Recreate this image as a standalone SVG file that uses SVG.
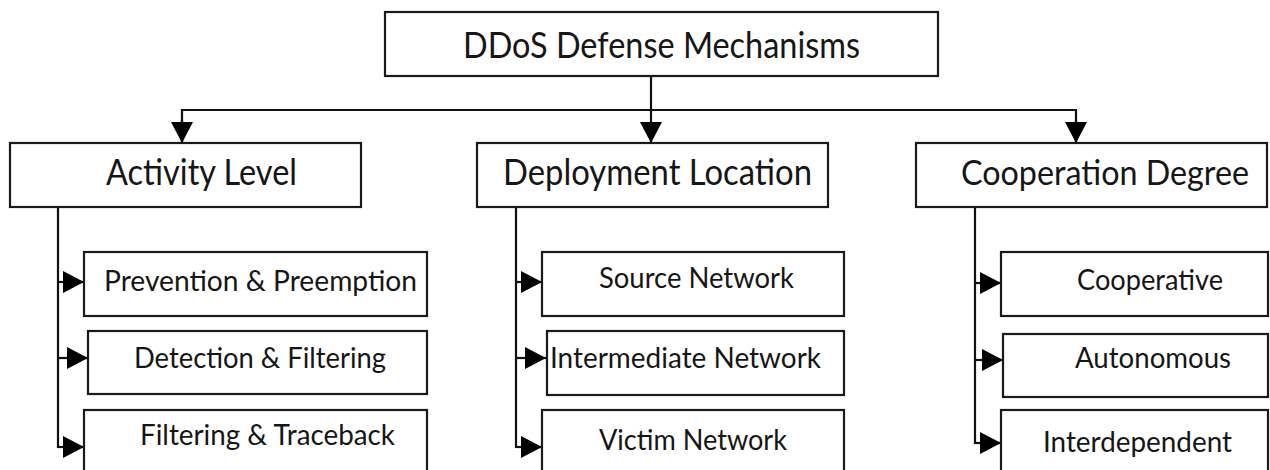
<svg xmlns="http://www.w3.org/2000/svg" width="1270" height="470" viewBox="0 0 1270 470">
<defs>
<style>
.box{fill:#fff;stroke:#1a1a1a;stroke-width:2.2}
.t{font-family:Lato,"Open Sans","Liberation Sans",sans-serif;fill:#161616;text-anchor:middle}
.h{font-size:37px}
.hs{font-size:34px}
.c{font-size:29px}
.ln{fill:none;stroke:#111;stroke-width:2.2}
</style>
<marker id="ah" markerUnits="userSpaceOnUse" markerWidth="24" markerHeight="24" viewBox="0 0 24 24" refX="22" refY="12" orient="auto">
<path d="M1,1 L22,12 L1,23 Z" fill="#000"/>
</marker>
</defs>
<rect width="1270" height="470" fill="#fff"/>
<g id="connectors">
<line class="ln" x1="651" y1="76" x2="651" y2="143" stroke="#444" stroke-width="2.8" marker-end="url(#ah)"/>
<polyline class="ln" points="182,143 182,110 1076,110 1076,143"/>
<line class="ln" x1="182" y1="120" x2="182" y2="143" marker-end="url(#ah)"/>
<line class="ln" x1="1076" y1="120" x2="1076" y2="143" marker-end="url(#ah)"/>
<polyline class="ln" points="58,207 58,447 84,447"/>
<line class="ln" x1="58" y1="282" x2="84" y2="282" marker-end="url(#ah)"/>
<line class="ln" x1="58" y1="358" x2="88" y2="358" marker-end="url(#ah)"/>
<line class="ln" x1="58" y1="447" x2="84" y2="447" marker-end="url(#ah)"/>
<polyline class="ln" points="516,207 516,447 542,447"/>
<line class="ln" x1="516" y1="282" x2="542" y2="282" marker-end="url(#ah)"/>
<line class="ln" x1="516" y1="358" x2="546" y2="358" marker-end="url(#ah)"/>
<line class="ln" x1="516" y1="447" x2="542" y2="447" marker-end="url(#ah)"/>
<polyline class="ln" points="975,207 975,443 1001,443"/>
<line class="ln" x1="975" y1="283" x2="1001" y2="283" marker-end="url(#ah)"/>
<line class="ln" x1="975" y1="360" x2="1003" y2="360" marker-end="url(#ah)"/>
<line class="ln" x1="975" y1="443" x2="1001" y2="443" marker-end="url(#ah)"/>
</g>
<g id="root">
<rect class="box" x="385" y="12" width="553" height="64"/>
<text class="t h" x="661.5" y="58" textLength="397" lengthAdjust="spacingAndGlyphs">DDoS Defense Mechanisms</text>
</g>
<g id="activity">
<rect class="box" x="10" y="143" width="351" height="64"/>
<text class="t h" x="201.5" y="185" textLength="191" lengthAdjust="spacingAndGlyphs">Activity Level</text>
</g>
<g id="deployment">
<rect class="box" x="477" y="143" width="351" height="64"/>
<text class="t h" x="657.5" y="185" textLength="309" lengthAdjust="spacingAndGlyphs">Deployment Location</text>
</g>
<g id="cooperation">
<rect class="box" x="916" y="143" width="351" height="64"/>
<text class="t hs" x="1105" y="185" textLength="288" lengthAdjust="spacingAndGlyphs">Cooperation Degree</text>
</g>
<g id="prevention">
<rect class="box" x="84" y="252" width="343" height="64"/>
<text class="t c" x="260.5" y="291" textLength="313" lengthAdjust="spacingAndGlyphs">Prevention &amp; Preemption</text>
</g>
<g id="detection">
<rect class="box" x="88" y="331" width="339" height="63"/>
<text class="t c" x="260" y="368" textLength="252" lengthAdjust="spacingAndGlyphs">Detection &amp; Filtering</text>
</g>
<g id="traceback">
<rect class="box" x="84" y="410" width="343" height="66"/>
<text class="t c" x="267.5" y="445" textLength="255" lengthAdjust="spacingAndGlyphs">Filtering &amp; Traceback</text>
</g>
<g id="source">
<rect class="box" x="542" y="252" width="302" height="64"/>
<text class="t c" x="696.5" y="288" textLength="195" lengthAdjust="spacingAndGlyphs">Source Network</text>
</g>
<g id="intermediate">
<rect class="box" x="547" y="331" width="297" height="64"/>
<text class="t c" x="685.5" y="368" textLength="271" lengthAdjust="spacingAndGlyphs">Intermediate Network</text>
</g>
<g id="victim">
<rect class="box" x="542" y="410" width="302" height="66"/>
<text class="t c" x="693" y="450" textLength="188" lengthAdjust="spacingAndGlyphs">Victim Network</text>
</g>
<g id="cooperative">
<rect class="box" x="1001" y="252" width="267" height="64"/>
<text class="t c" x="1150" y="290" textLength="146" lengthAdjust="spacingAndGlyphs">Cooperative</text>
</g>
<g id="autonomous">
<rect class="box" x="1003" y="334" width="265" height="63"/>
<text class="t c" x="1153" y="368" textLength="156" lengthAdjust="spacingAndGlyphs">Autonomous</text>
</g>
<g id="interdependent">
<rect class="box" x="1001" y="410" width="267" height="66"/>
<text class="t c" x="1137.5" y="452" textLength="189" lengthAdjust="spacingAndGlyphs">Interdependent</text>
</g>
</svg>
